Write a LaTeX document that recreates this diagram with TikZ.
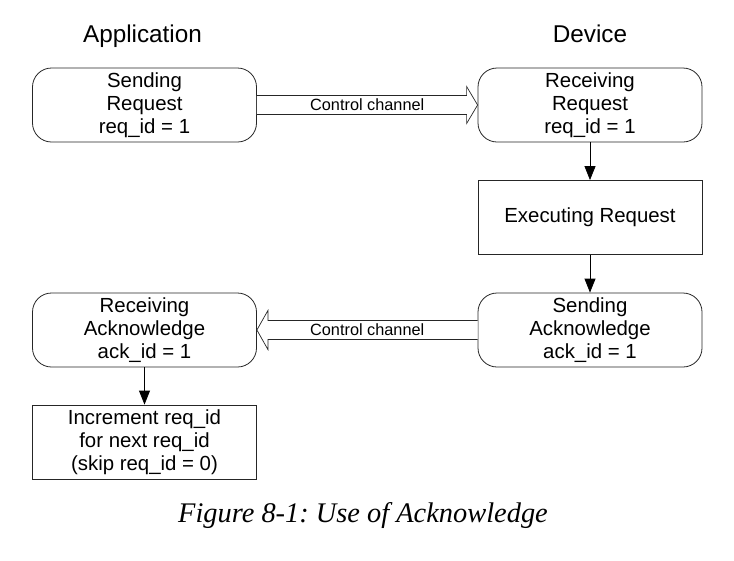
\documentclass[tikz,border=0pt]{standalone}
\usepackage{fontspec}
\setmainfont{Liberation Sans}
\newfontfamily\capfont{Liberation Serif}
\usetikzlibrary{calc,arrows.meta}
\begin{document}
\frenchspacing
\begin{tikzpicture}[x=1pt,y=-1pt,
  boxbase/.style={draw=black!85,line width=0.8pt,minimum width=224pt,minimum height=74pt,inner sep=0pt,align=center,font=\fontsize{20.4}{23}\selectfont},
  roundbox/.style={boxbase,rounded corners=19pt},
  rectbox/.style={boxbase},
  hdr/.style={font=\fontsize{24.3}{28}\selectfont,anchor=base},
  flow/.style={draw=black,line width=0.8pt,-{Triangle[length=14pt,width=11pt]}},
  hollow/.style={draw=black!85,line width=0.7pt,fill=white,line join=miter},
  chan/.style={font=\fontsize{16.3}{19}\selectfont}
]
\useasboundingbox (0,0) rectangle (734,560);
\node[hdr] (happ) at (142.5,42) {Application};
\node[hdr] (hdev) at (590,42) {Device};

\node[roundbox] (b1) at (144.5,105) {Sending\\Request\\req\_id = 1};
\node[roundbox] (b2) at (590,105) {Receiving\\Request\\req\_id = 1};
\node[rectbox] (b3) at (590,217.5) {Executing Request};
\node[roundbox] (b4) at (590,330) {Sending\\Acknowledge\\ack\_id = 1};
\node[roundbox] (b5) at (144.5,330) {Receiving\\Acknowledge\\ack\_id = 1};
\node[rectbox] (b6) at (144.5,442) {Increment req\_id\\for next req\_id\\(skip req\_id = 0)};

% hollow arrow b1 -> b2
\draw[hollow] ($(b1.east)+(0,-9.5)$) -- ($(b2.west)+(-11,-9.5)$) -- ($(b2.west)+(-11,-18.5)$)
  -- (b2.west) -- ($(b2.west)+(-11,18.5)$) -- ($(b2.west)+(-11,9.5)$) -- ($(b1.east)+(0,9.5)$);
\node[chan] (c1) at ($(b1.east)!0.5!(b2.west)$) {Control channel};

% hollow arrow b4 -> b5
\draw[hollow] ($(b4.west)+(0,-9.5)$) -- ($(b5.east)+(11,-9.5)$) -- ($(b5.east)+(11,-19.5)$)
  -- (b5.east) -- ($(b5.east)+(11,19.5)$) -- ($(b5.east)+(11,9.5)$) -- ($(b4.west)+(0,9.5)$);
\node[chan] (c2) at ($(b5.east)!0.5!(b4.west)$) {Control channel};

\draw[flow] (b2.south) -- (b3.north);
\draw[flow] (b3.south) -- (b4.north);
\draw[flow] (b5.south) -- (b6.north);

\node[font=\capfont\itshape\fontsize{28.4}{32}\selectfont,anchor=base] (cap) at (363,522) {Figure 8-1: Use of Acknowledge};
\end{tikzpicture}
\end{document}
